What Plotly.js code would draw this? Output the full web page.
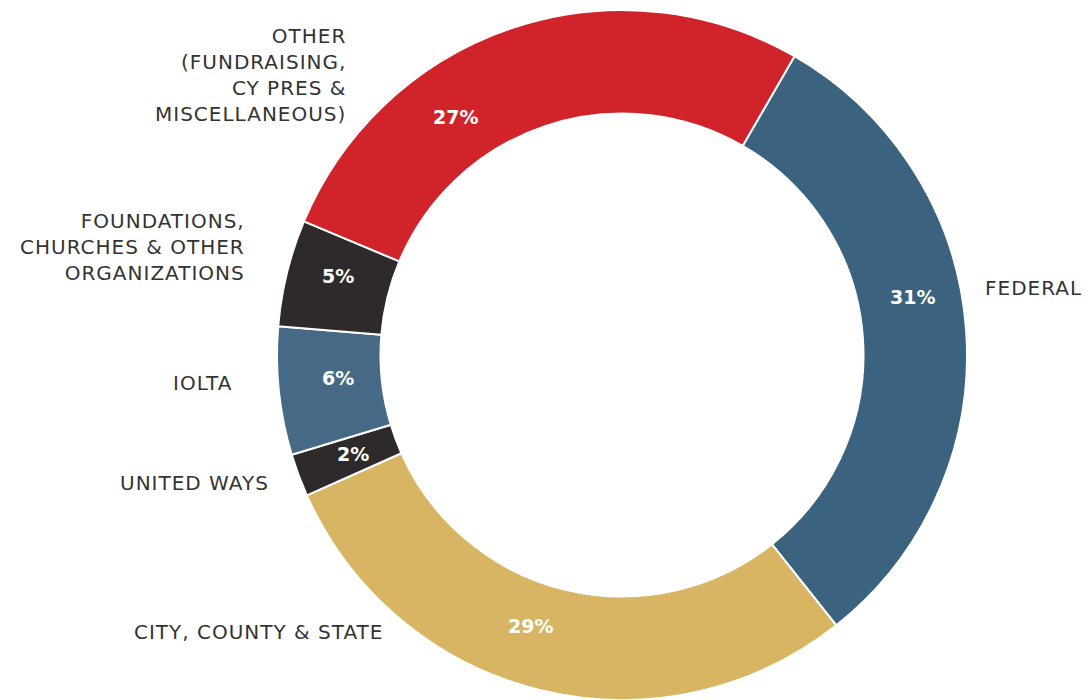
<!DOCTYPE html>
<html>
<head>
<meta charset="utf-8">
<script src="https://cdn.plot.ly/plotly-3.0.1.min.js"></script>
<style>
html,body{margin:0;padding:0;background:#fff;}
#chart{width:1088px;height:700px;}
#chart .annotation:is([data-index="0"],[data-index="1"],[data-index="2"],[data-index="3"],[data-index="4"],[data-index="5"]) .annotation-text{letter-spacing:1px;}
</style>
</head>
<body>
<div id="chart"></div>
<script>
const categories = ["FEDERAL", "CITY, COUNTY & STATE", "UNITED WAYS", "IOLTA", "FOUNDATIONS, CHURCHES & OTHER ORGANIZATIONS", "OTHER (FUNDRAISING, CY PRES & MISCELLANEOUS)"];
const labelText = ["FEDERAL", "CITY, COUNTY & STATE", "UNITED WAYS", "IOLTA", "FOUNDATIONS,<br>CHURCHES & OTHER<br>ORGANIZATIONS", "OTHER<br>(FUNDRAISING,<br>CY PRES &<br>MISCELLANEOUS)"];
const shares = [31, 29, 2, 6, 5, 27];
const colors = ["#3b627e", "#d7b563", "#2e2a2b", "#466a86", "#2e2a2b", "#d0232a"];

const W = 1088, H = 700;
// category label anchor points (px) — layout only
const labelPos = [
  {x: 983, y: 288, xa: "left"},
  {x: 385, y: 632, xa: "right"},
  {x: 271, y: 483, xa: "right"},
  {x: 235, y: 383, xa: "right"},
  {x: 247, y: 247, xa: "right"},
  {x: 348, y: 75, xa: "right"}
];
// percentage label centres (px) — layout only
const pctPos = [
  {x: 912, y: 297}, {x: 530, y: 626}, {x: 353, y: 454},
  {x: 338, y: 378}, {x: 338, y: 276}, {x: 455, y: 117}
];

const trace = {
  type: "pie",
  labels: categories,
  values: shares,
  sort: false,
  direction: "clockwise",
  rotation: 30,
  hole: 0.70,
  marker: {colors: colors, line: {color: "#ffffff", width: 2}},
  textinfo: "none",
  domain: {x: [277/W, 967/W], y: [0, 690/H]},
  showlegend: false,
  hoverinfo: "label+percent"
};

const labelFont = {family: "'DejaVu Sans', sans-serif", size: 20, color: "#333333"};
const annotations = labelText.map((t, i) => ({
  text: t,
  x: labelPos[i].x / W,
  y: 1 - labelPos[i].y / H,
  xref: "paper", yref: "paper",
  xanchor: labelPos[i].xa, yanchor: "middle",
  align: labelPos[i].xa,
  showarrow: false,
  font: labelFont
})).concat(shares.map((v, i) => ({
  text: "<b>" + v + "%</b>",
  x: pctPos[i].x / W,
  y: 1 - pctPos[i].y / H,
  xref: "paper", yref: "paper",
  xanchor: "center", yanchor: "middle",
  showarrow: false,
  font: {family: "'DejaVu Sans', sans-serif", size: 19, color: "#ffffff"}
})));

Plotly.newPlot("chart", [trace], {
  width: W, height: H,
  margin: {l: 0, r: 0, t: 0, b: 0},
  paper_bgcolor: "#ffffff",
  annotations: annotations
}, {displayModeBar: false});
</script>
</body>
</html>
